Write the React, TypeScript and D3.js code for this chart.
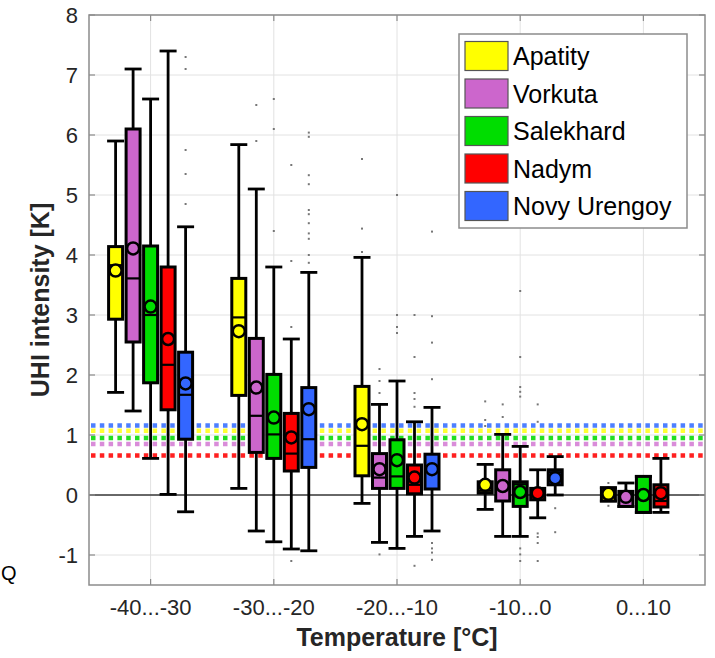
import React from 'react'
import * as d3 from 'd3'

const categories = ['-40...-30', '-30...-20', '-20...-10', '-10...0', '0...10']
const cities = ['Apatity', 'Vorkuta', 'Salekhard', 'Nadym', 'Novy Urengoy']
const cityColors = ['#ffff00', '#cc66cc', '#00dd00', '#ff0000', '#3366ff']
const dotColors = ['#ffff33', '#d98cd9', '#22dd22', '#ff2020', '#4d7fff']

// per city: [whiskerLow, q1, median, q3, whiskerHigh, mean] for each temperature class
const apatity = [
  [1.71, 2.93, 3.83, 4.14, 5.9, 3.74],
  [0.11, 1.66, 2.96, 3.61, 5.84, 2.73],
  [-0.14, 0.32, 0.82, 1.81, 3.96, 1.18],
  [-0.24, 0.03, 0.07, 0.22, 0.51, 0.17],
  [-0.1, -0.1, 0.0, 0.12, 0.12, 0.02],
]
const vorkuta = [
  [1.4, 2.55, 3.61, 6.1, 7.1, 4.11],
  [-0.6, 0.71, 1.32, 2.61, 5.1, 1.79],
  [-0.79, 0.11, 0.29, 0.69, 1.51, 0.43],
  [-0.69, -0.1, 0.2, 0.42, 1.01, 0.15],
  [-0.19, -0.19, -0.05, 0.06, 0.2, -0.03],
]
const salekhard = [
  [0.61, 1.87, 3.0, 4.15, 6.6, 3.14],
  [-0.78, 0.61, 1.01, 2.01, 3.8, 1.29],
  [-0.89, 0.11, 0.31, 0.92, 1.9, 0.58],
  [-0.69, -0.19, 0.18, 0.22, 0.81, 0.05],
  [-0.29, -0.29, -0.05, 0.31, 0.31, 0.0],
]
const nadym = [
  [0.01, 1.42, 2.17, 3.8, 7.4, 2.6],
  [-0.9, 0.4, 0.69, 1.36, 2.6, 0.96],
  [-0.69, 0.02, 0.17, 0.5, 1.22, 0.29],
  [-0.38, -0.08, 0.0, 0.11, 0.42, 0.03],
  [-0.29, -0.2, -0.1, 0.17, 0.61, 0.03],
]
const novyUrengoy = [
  [-0.28, 0.93, 1.67, 2.38, 4.47, 1.86],
  [-0.93, 0.46, 0.93, 1.79, 3.71, 1.43],
  [-0.6, 0.1, 0.4, 0.68, 1.46, 0.43],
  [0.0, 0.17, 0.38, 0.42, 0.64, 0.28],
  null,
]

const outApatity = [[], [], [5.6, 4.44, 4.05], [1.56, 1.25, 1.15], [0.2, -0.18]]
const outVorkuta = [[], [6.5, 5.9], [2.1, 1.9, 1.7, -0.99], [1.51, 1.3], []]
const outSalekhard = [[], [6.6, 6.1, 4.4], [5.0, 3.0, 2.8, 2.7], [3.4, 2.3, 1.8, 1.72, 1.64, -0.89, -0.99, -1.1], []]
const outNadym = [[], [5.5, 3.9, 2.8, -1.1], [3.0, 2.3, 1.7, 1.6, 1.47, -1.18], [1.51, 1.22, -0.64, -0.7, -0.8, -1.1], []]
const outNovyUrengoy = [
  [7.3, 7.1, 5.75, 5.35, 4.85],
  [6.04, 5.97, 5.33, 5.18, 4.75, 4.68, 4.53, 4.36, 4.27, 4.0, 3.87],
  [4.39, 2.98, 2.54, 1.93, -0.8, -0.89, -0.96, -1.08],
  [-0.22, -0.62],
  [],
]

// reference UHI level per city (dotted lines)
const thresholds = [1.07, 0.85, 0.95, 0.66, 1.16]

const yTicks = [-1, 0, 1, 2, 3, 4, 5, 6, 7, 8]

const stats = [apatity, vorkuta, salekhard, nadym, novyUrengoy]
const outliers = [outApatity, outVorkuta, outSalekhard, outNadym, outNovyUrengoy]

const W = 715
const H = 658
const left = 89
const right = 705
const top = 15
const bottom = 585
const font = '"Liberation Sans", Arial, Helvetica, sans-serif'

export default function App() {
  const x = d3.scaleLinear().domain([0.5, 5.5]).range([left, right])
  const y = d3.scaleLinear().domain([-1.5, 8]).range([bottom, top])
  const offset = d3.scalePoint<string>().domain(cities).range([-35, 35])
  const boxW = 14
  const capW = 17

  return (
    <svg
      width={W}
      height={H}
      style={{ position: 'absolute', left: 0, top: 0, background: '#fff' }}
      fontFamily={font}
    >
      <rect x={left} y={top} width={right - left} height={bottom - top} fill="#fff" />
      {/* grid */}
      {yTicks.map((t) => (
        <line key={'gy' + t} x1={left} x2={right} y1={y(t)} y2={y(t)} stroke="#e2e2e2" strokeWidth={1} />
      ))}
      {categories.map((c, i) => (
        <line key={'gx' + c} x1={x(i + 1)} x2={x(i + 1)} y1={top} y2={bottom} stroke="#e2e2e2" strokeWidth={1} />
      ))}
      {/* zero line */}
      <line x1={left} x2={right} y1={y(0)} y2={y(0)} stroke="#3a3a3a" strokeWidth={1.3} />
      {/* dotted reference lines */}
      {[3, 1, 2, 0, 4].map((k) => (
        <line
          key={'th' + k}
          x1={left + 2}
          x2={right}
          y1={y(thresholds[k])}
          y2={y(thresholds[k])}
          stroke={dotColors[k]}
          strokeWidth={4.5}
          strokeDasharray="4.5 4.3"
        />
      ))}
      {/* outliers */}
      {outliers.map((city, k) =>
        city.map((vals, i) =>
          vals.map((v, j) => (
            <rect
              key={`o${k}-${i}-${j}`}
              x={x(i + 1) + (offset(cities[k]) as number) - 1}
              y={y(v) - 1}
              width={2}
              height={2}
              fill="#777"
            />
          ))
        )
      )}
      {/* boxes */}
      {stats.map((city, k) =>
        city.map((s, i) => {
          if (!s) return null
          const cx = x(i + 1) + (offset(cities[k]) as number)
          const [lo, q1, med, q3, hi, mean] = s
          return (
            <g key={`b${k}-${i}`}>
              <line x1={cx} x2={cx} y1={y(hi)} y2={y(lo)} stroke="#000" strokeWidth={2.8} />
              <line x1={cx - capW / 2} x2={cx + capW / 2} y1={y(hi)} y2={y(hi)} stroke="#000" strokeWidth={2.8} />
              <line x1={cx - capW / 2} x2={cx + capW / 2} y1={y(lo)} y2={y(lo)} stroke="#000" strokeWidth={2.8} />
              <rect
                x={cx - boxW / 2}
                y={y(q3)}
                width={boxW}
                height={Math.max(0.5, y(q1) - y(q3))}
                fill={cityColors[k]}
                stroke="#000"
                strokeWidth={3}
              />
              <line x1={cx - boxW / 2} x2={cx + boxW / 2} y1={y(med)} y2={y(med)} stroke="#000" strokeWidth={2.2} />
              <circle cx={cx} cy={y(mean)} r={6} fill={cityColors[k]} stroke="#000" strokeWidth={2.5} />
            </g>
          )
        })
      )}
      {/* axes box */}
      <rect x={left} y={top} width={right - left} height={bottom - top} fill="none" stroke="#8c8c8c" strokeWidth={1.5} />
      {yTicks.map((t) => (
        <g key={'ty' + t}>
          <line x1={left} x2={left + 6} y1={y(t)} y2={y(t)} stroke="#8c8c8c" strokeWidth={1.2} />
          <line x1={right - 6} x2={right} y1={y(t)} y2={y(t)} stroke="#8c8c8c" strokeWidth={1.2} />
          <text x={left - 11} y={y(t)} dy="0.36em" textAnchor="end" fontSize={22} fill="#262626">
            {t}
          </text>
        </g>
      ))}
      {categories.map((c, i) => (
        <g key={'tx' + c}>
          <line x1={x(i + 1)} x2={x(i + 1)} y1={bottom} y2={bottom - 6} stroke="#8c8c8c" strokeWidth={1.2} />
          <line x1={x(i + 1)} x2={x(i + 1)} y1={top} y2={top + 6} stroke="#8c8c8c" strokeWidth={1.2} />
          <text x={x(i + 1)} y={615} textAnchor="middle" fontSize={22} fill="#262626">
            {c}
          </text>
        </g>
      ))}
      <text x={(left + right) / 2} y={646} textAnchor="middle" fontSize={25} fontWeight="bold" fill="#262626">
        Temperature [°C]
      </text>
      <text
        transform={`translate(49,${(top + bottom) / 2}) rotate(-90)`}
        textAnchor="middle"
        fontSize={25}
        fontWeight="bold"
        fill="#262626"
      >
        UHI intensity [K]
      </text>
      <text x={1} y={580} fontSize={20} fill="#000">
        Q
      </text>
      {/* legend */}
      <rect x={459} y={34} width={228} height={194} fill="#fff" stroke="#8c8c8c" strokeWidth={1.5} />
      {cities.map((c, k) => (
        <g key={'lg' + c} transform={`translate(0,${56 + k * 37.5})`}>
          <rect x={465} y={-14.5} width={43} height={29} fill={cityColors[k]} stroke="#555" strokeWidth={1.2} />
          <text x={513} y={0} dy="0.36em" fontSize={25} fill="#000">
            {c}
          </text>
        </g>
      ))}
    </svg>
  )
}
